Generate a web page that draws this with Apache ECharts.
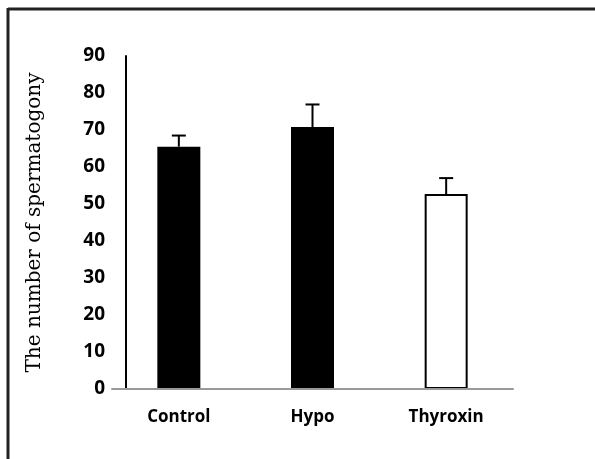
<!DOCTYPE html>
<html>
<head>
<meta charset="utf-8">
<script src="https://cdn.jsdelivr.net/npm/echarts@6/dist/echarts.min.js"></script>
<style>
html,body{margin:0;padding:0;background:#fff;}
#chart{width:595px;height:459px;}
</style>
</head>
<body>
<div id="chart"></div>
<script>
const categories = ['Control', 'Hypo', 'Thyroxin'];
const means = [65.5, 70.8, 52.7];
const errors = [3, 6.1, 4.3];
const yTicks = [0, 10, 20, 30, 40, 50, 60, 70, 80, 90];

const fills = ['#000000', '#000000', '#ffffff'];

const chart = echarts.init(document.getElementById('chart'));
const barData = means.map((v, i) => ({
  value: v,
  itemStyle: { color: fills[i], borderColor: '#000', borderWidth: i === 2 ? 2 : 0 }
}));
const errData = means.map((v, i) => [i, v, v + errors[i]]);

chart.setOption({
  animation: false,
  graphic: [
    { type: 'line', shape: { x1: 8, y1: 9, x2: 595, y2: 9 }, style: { stroke: '#222', lineWidth: 3 } },
    { type: 'line', shape: { x1: 8, y1: 8, x2: 8, y2: 459 }, style: { stroke: '#222', lineWidth: 3 } }
  ],
  grid: { left: 112, right: 82, top: 56, bottom: 70 },
  xAxis: {
    type: 'category',
    data: categories,
    z: 5,
    axisLine: { lineStyle: { color: '#999', width: 2 } },
    axisTick: { show: false },
    axisLabel: { color: '#000', fontFamily: 'Open Sans', fontWeight: 'bold', fontSize: 17, margin: 20 }
  },
  yAxis: {
    type: 'value',
    min: 0, max: 90, interval: 10,
    offset: -14,
    name: 'The number of spermatogony',
    nameLocation: 'middle',
    nameRotate: 90,
    nameGap: 81,
    nameTextStyle: { color: '#000', fontFamily: 'DejaVu Serif', fontSize: 20 },
    axisLine: { show: true, lineStyle: { color: '#000', width: 2 } },
    axisTick: { show: false },
    splitLine: { show: false },
    axisLabel: {
      color: '#000', fontFamily: 'Open Sans', fontWeight: 'bold', fontSize: 19, margin: 21,
      formatter: v => yTicks.includes(v) ? String(v) : ''
    }
  },
  series: [
    {
      type: 'bar',
      data: barData,
      barWidth: 43
    },
    {
      type: 'custom',
      data: errData,
      z: 3,
      renderItem: function (params, api) {
        const x = api.value(0);
        const lo = api.coord([x, api.value(1)]);
        const hi = api.coord([x, api.value(2)]);
        const half = 7;
        return {
          type: 'group',
          children: [
            { type: 'line', shape: { x1: lo[0], y1: lo[1], x2: hi[0], y2: hi[1] }, style: { stroke: '#000', lineWidth: 2 } },
            { type: 'line', shape: { x1: hi[0] - half, y1: hi[1], x2: hi[0] + half, y2: hi[1] }, style: { stroke: '#000', lineWidth: 2 } }
          ]
        };
      }
    }
  ]
});
</script>
</body>
</html>
